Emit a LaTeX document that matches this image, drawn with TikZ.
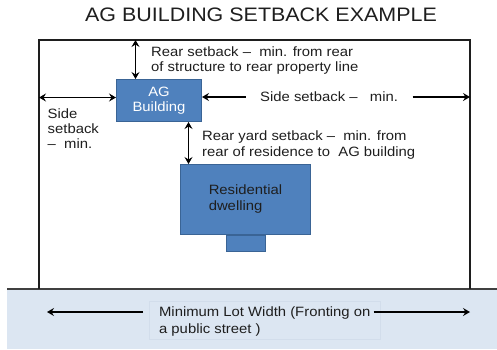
\documentclass[tikz,border=0pt]{standalone}
\usepackage{fontspec}
\setmainfont{Liberation Sans}[FakeStretch=1.1]
\usetikzlibrary{arrows.meta,positioning}

\definecolor{agblue}{HTML}{4F81BD}
\definecolor{agedge}{HTML}{3A6495}
\definecolor{street}{HTML}{DCE6F2}
\definecolor{streetedge}{HTML}{D2DDEB}
\definecolor{ink}{HTML}{1E1E1E}

\begin{document}
\begin{tikzpicture}[x=1pt,y=-1pt,
  >={Stealth[length=7pt,width=8pt,inset=2.5pt]},
  bldg/.style={draw=agedge,fill=agblue,line width=1pt,inner sep=0pt},
  dim/.style={<->,line width=1.6pt},
  tip/.style={->,line width=1.6pt},
  note/.style={align=left,text=ink,inner sep=0pt,anchor=north west,
    font=\fontsize{13.5}{15}\selectfont}]
\useasboundingbox (0,0) rectangle (497,349);

% street and lot
\fill[street] (7,289) rectangle (497,349);
\draw[line width=1.5pt,color=ink!85] (7,289) -- (497,289);
\coordinate (lotNW) at (39,40);
\coordinate (lotNE) at (470,40);
\coordinate (lotSW) at (39,289);
\coordinate (lotSE) at (470,289);
\draw[line width=2pt,color=ink] (lotSW) -- (lotNW) -- (lotNE) -- (lotSE);

\node[text=ink,font=\fontsize{19.5}{22}\selectfont] (title) at (261,15) {AG BUILDING SETBACK EXAMPLE};

% buildings
\node[bldg,minimum width=85pt,minimum height=42pt,anchor=north west,
  text=white,align=center,font=\fontsize{13.5}{15}\selectfont] (ag) at (116,79) {AG\\Building};
\node[bldg,minimum width=130pt,minimum height=70pt,anchor=north west,
  text=ink,align=left,font=\fontsize{13.5}{16}\selectfont] (home) at (180,164) {Residential\\dwelling};
\node[bldg,minimum width=39pt,minimum height=16pt,anchor=north] (porch) at (home.south) {};

% setbacks
\draw[dim] ([xshift=-23.5pt]ag.north) -- ([xshift=-23.5pt]ag.north |- lotNW);
\node[note] (rear) at (151,46.5) {Rear setback –~ min. from rear\\of structure to rear property line};

\draw[dim] ([yshift=3pt]ag.west) -- ([yshift=3pt]ag.west -| lotNW);
\node[note] (sideL) at (47.5,108.5) {Side\\setback\\–~ min.};

\node[note,anchor=west,inner xsep=14.5pt] (sideR) at (245.5,97) {Side setback –~~ min.};
\draw[tip] (sideR.west) -- (sideR.west -| ag.east);
\draw[tip] (sideR.east) -- (sideR.east -| lotNE);

\draw[dim] ([xshift=29.5pt]ag.south) -- ([xshift=29.5pt]ag.south |- home.north);
\node[note,font=\fontsize{13.5}{16}\selectfont] (yard) at (202,130.5) {Rear yard setback –~ min. from\\rear of residence to~ AG building};

% lot width
\node[note,draw=streetedge,line width=0.5pt,minimum width=231pt,minimum height=38pt,
  inner xsep=8pt,text depth=0pt,font=\fontsize{13.5}{17}\selectfont] (width) at (149,301)
  {Minimum Lot Width (Fronting on\\a public street )};
\coordinate (wl) at (47,312);
\coordinate (wr) at (470,312);
\draw[tip] ([xshift=-6pt]wl -| width.west) -- (wl);
\draw[tip] ([xshift=-7pt]wr -| width.east) -- (wr);
\end{tikzpicture}
\end{document}
